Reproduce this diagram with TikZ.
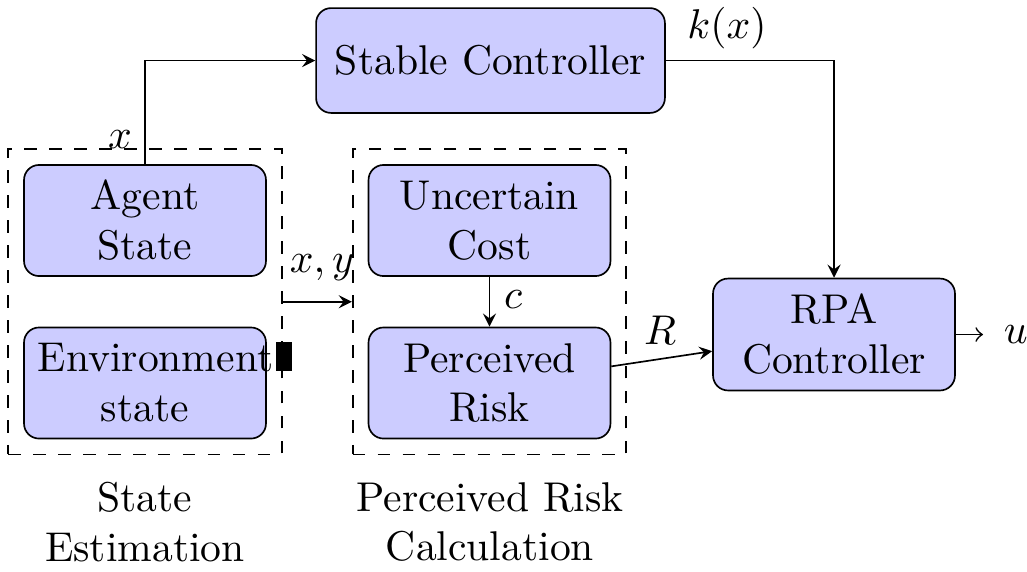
\documentclass[tikz,border=0pt]{standalone}
\usetikzlibrary{fit,positioning}
\begin{document}
\begin{tikzpicture}[x=0.2404pt,y=-0.2404pt,
  block/.style={draw,fill=blue!20,rounded corners=3.6pt,inner sep=3.33pt,
    text width=51.5pt,align=center,minimum height=26.7pt},
  group/.style={draw,dashed,inner sep=3.6pt},
  link/.style={-stealth},
  lbl/.style={inner sep=0pt}]
\useasboundingbox (0,0) rectangle (1027,571);

% processing blocks
\node[block,text width=77.2pt,minimum height=25.2pt] (sc) at (490.5,60.5) {Stable Controller};
\node[block] (as) at (145,220.5) {Agent\\State};
\node[block] (es) at (145,383) {Environment\\state};
\node[block] (uc) at (489.5,220.5) {Uncertain\\Cost};
\node[block] (pr) at (489.5,383) {Perceived\\Risk};
\node[block,minimum height=26.9pt] (rpa) at (834,334.5) {RPA\\Controller};

% overfull marker beside the environment block
\fill (276,342) rectangle (292,371);

% dashed groups
\node[group,fit=(as)(es)] (se) {};
\node[group,fit=(uc)(pr)] (prc) {};

% group captions
\node[align=center,lbl] (secap) at (145,522) {State\\Estimation};
\node[align=center,lbl] (prcap) at (490,522) {Perceived Risk\\Calculation};

% connectors
\draw[link] (as.north) |- (sc.west);
\draw[link] (sc.east) -| (rpa.north);
\draw[link] (se.east) -- (prc.west);
\draw[link] (uc.south) -- (pr.north);
\draw[link] ([yshift=4pt]pr.east) -- ([yshift=-4pt]rpa.west);
\coordinate (uout) at (983,334.5);
\draw[->] (rpa.east) -- (uout);

% signal labels
\node[lbl] (lx) at (120,140) {$x$};
\node[lbl] (lk) at (727,28) {$k(x)$};
\node[lbl] (lxy) at (322,268) {$x,y$};
\node[lbl] (lc) at (513,300) {$c$};
\node[lbl] (lr) at (660,330) {$R$};
\node[lbl,anchor=west] (lu) at (1003,334.5) {$u$};
\end{tikzpicture}
\end{document}
